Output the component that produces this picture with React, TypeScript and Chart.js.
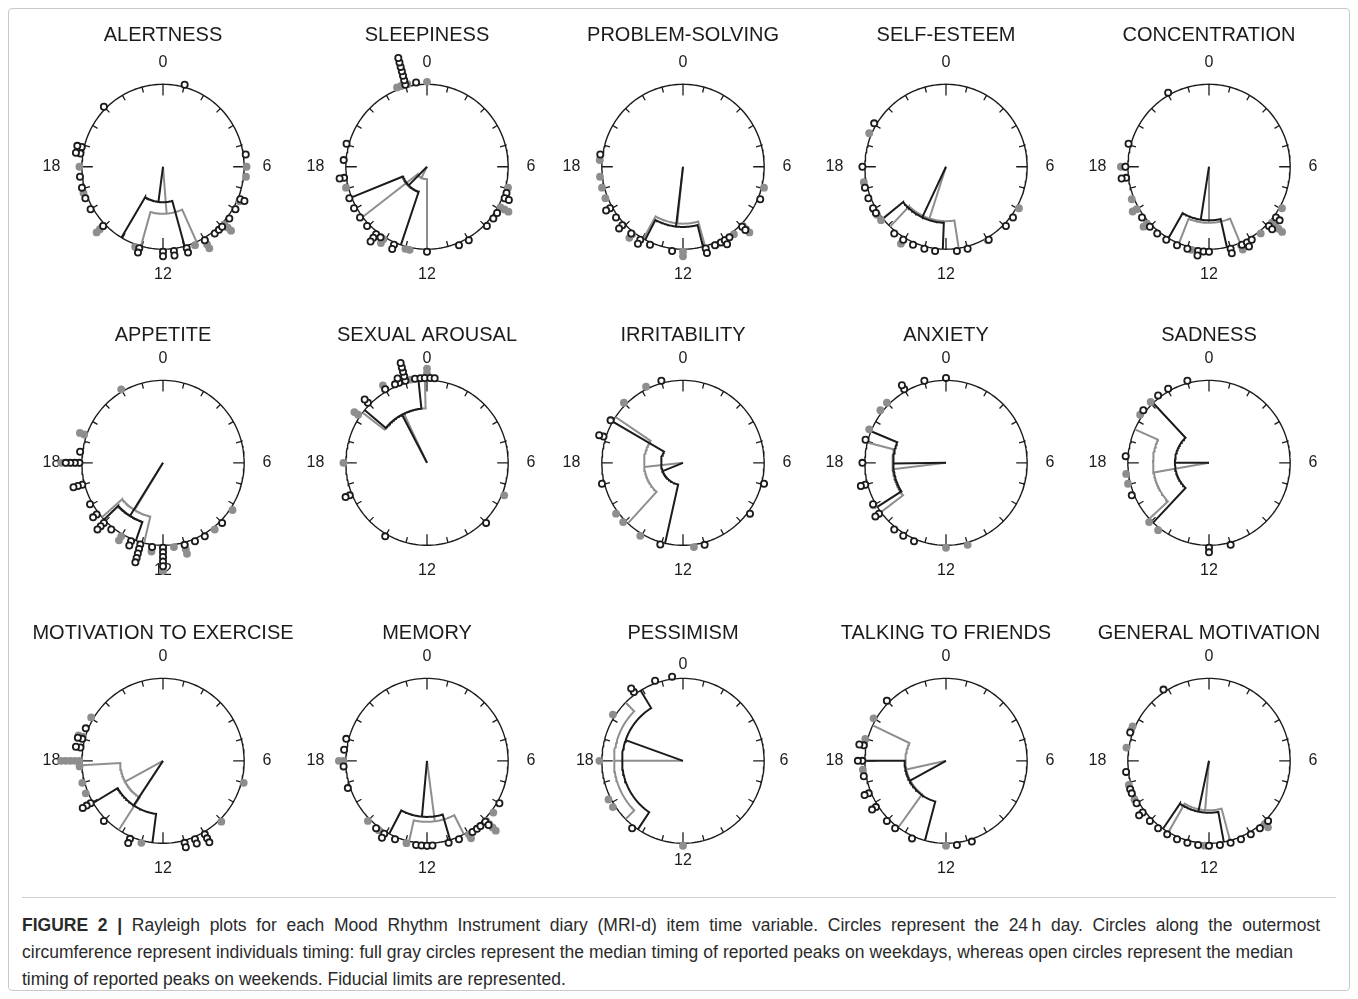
import React, { useEffect, useRef } from 'react';
import { Chart, registerables } from 'chart.js';

Chart.register(...registerables);

const FONT = 'Arial, "Liberation Sans", Helvetica, sans-serif';
const INK = '#1b1b1b';
const GRAY = '#8e8e8e';

// ---------- tick labels ----------
const hourLabelValues = [0, 6, 12, 18];
const hourLabelTexts = ['0', '6', '12', '18'];

// ---------- data (hours of the day) ----------
// weekday = full gray circles, weekend = open circles
// mean = [mean hour, mean resultant length, lower fiducial hour, upper fiducial hour]
const alertnessWeekday = [18.0, 6.0, 6.45, 7.6, 8.0, 8.85, 8.85, 8.85, 10.0, 10.0, 10.0, 10.5, 13.3, 15.05, 15.05, 15.05, 16.8];
const alertnessWeekend = [1.0, 21.0, 18.6, 18.6, 18.9, 18.9, 5.45, 17.55, 17.05, 16.55, 16.0, 15.05, 13.1, 13.1, 12.0, 12.0, 11.5, 11.5, 10.9, 10.9, 10.0, 9.45, 9.2, 9.0, 8.5, 8.0, 7.5, 7.5];
const alertnessMeanWeekday = [11.7, 0.57, 10.37, 13.05];
const alertnessMeanWeekend = [12.5, 0.43, 10.97, 14.05];

const sleepinessWeekday = [22.6, 22.8, 23.1, 0.0, 6.95, 7.9, 7.9, 7.9, 17.05, 14.1, 14.1, 12.8, 13.0];
const sleepinessWeekend = [23.0, 23.0, 23.0, 23.0, 23.0, 23.0, 23.0, 23.5, 19.05, 18.3, 17.5, 17.5, 16.55, 16.05, 15.55, 15.05, 14.5, 14.5, 14.5, 14.25, 13.55, 13.55, 12.0, 10.5, 10.0, 8.95, 8.5, 8.2, 7.2, 7.45, 7.45];
const sleepinessMeanWeekday = [13.8, 0.15, 12.0, 15.5];
const sleepinessMeanWeekend = [15.0, 0.32, 13.25, 16.55];

const problemWeekday = [18.3, 17.55, 17.05, 16.55, 14.5, 14.5, 12.0, 12.0, 10.45, 9.5, 8.95, 8.95, 8.95, 6.95];
const problemWeekend = [18.55, 16.05, 16.05, 15.55, 15.1, 15.1, 14.55, 14.05, 14.05, 13.55, 12.5, 10.95, 10.95, 10.5, 10.2, 10.0, 10.0, 9.75, 9.0, 9.0, 7.5];
const problemMeanWeekday = [12.4, 0.69, 10.95, 13.95];
const problemMeanWeekend = [12.45, 0.73, 11.05, 13.85];

const selfEsteemWeekday = [19.55, 17.3, 16.0, 15.7, 15.4, 14.05, 14.05, 10.0, 7.95];
const selfEsteemWeekend = [20.05, 18.0, 17.05, 16.55, 16.05, 15.8, 14.55, 14.05, 13.55, 13.0, 12.5, 11.5, 11.0, 9.95, 8.95, 8.45];
const selfEsteemMeanWeekday = [13.2, 0.66, 11.4, 14.9];
const selfEsteemMeanWeekend = [13.7, 0.68, 12.15, 15.4];

const concentrationWeekday = [18.0, 18.0, 16.5, 16.0, 16.0, 15.2, 15.2, 12.8, 10.5, 10.5, 9.45, 7.95, 8.75, 8.75, 8.75, 8.75];
const concentrationWeekend = [22.05, 19.05, 18.0, 17.5, 17.5, 15.55, 15.0, 14.55, 14.05, 13.5, 13.0, 12.5, 12.5, 12.25, 12.0, 11.0, 11.0, 10.45, 10.2, 10.2, 9.95, 8.95, 8.95, 8.45, 8.45];
const concentrationMeanWeekday = [12.0, 0.68, 10.5, 13.45];
const concentrationMeanWeekend = [12.6, 0.65, 11.15, 14.0];

const appetiteWeekday = [22.0, 19.3, 19.3, 18.0, 18.0, 18.0, 18.0, 18.0, 14.0, 14.0, 12.5, 12.5, 11.5, 11.0, 11.0, 11.0, 9.45, 8.25, 12.0, 12.0, 12.0, 12.0, 12.0, 12.0];
const appetiteWeekend = [18.5, 18.0, 18.0, 18.0, 18.0, 17.0, 17.0, 17.0, 16.05, 15.5, 15.5, 15.0, 15.0, 15.0, 14.55, 13.5, 13.5, 13.05, 13.05, 13.05, 13.05, 13.05, 12.5, 12.0, 12.0, 12.0, 12.0, 12.0, 11.0, 10.5, 10.0, 9.0];
const appetiteMeanWeekday = [14.1, 0.67, 12.9, 15.25];
const appetiteMeanWeekend = [14.15, 0.76, 13.3, 15.1];

const sexualWeekday = [0.0, 0.0, 0.0, 23.25, 22.0, 22.0, 20.3, 20.3, 18.0, 7.5];
const sexualWeekend = [23.45, 23.7, 23.9, 0.15, 0.35, 23.0, 23.0, 23.0, 23.0, 23.0, 22.7, 22.7, 22.5, 22.0, 21.0, 21.0, 16.5, 16.5, 14.0, 9.0];
const sexualMeanWeekday = [22.3, 0.66, 20.5, 23.9];
const sexualMeanWeekend = [22.15, 0.66, 20.65, 23.6];

const irritabilityWeekday = [22.25, 21.0, 20.0, 15.55, 15.05, 14.05, 11.5];
const irritabilityWeekend = [23.0, 20.0, 19.2, 19.2, 17.05, 13.05, 11.0, 8.45, 6.95];
const irritabilityMeanWeekday = [17.6, 0.48, 14.85, 20.25];
const irritabilityMeanWeekend = [16.55, 0.27, 12.85, 20.0];

const anxietyWeekday = [21.0, 20.55, 19.55, 17.0, 17.0, 16.0, 12.0, 11.0];
const anxietyWeekend = [0.0, 23.0, 22.0, 22.0, 19.05, 18.0, 17.0, 17.0, 16.05, 15.55, 15.55, 14.55, 14.05, 13.5];
const anxietyMeanWeekday = [17.55, 0.66, 15.55, 18.95];
const anxietyMeanWeekend = [17.95, 0.65, 15.85, 19.5];

const sadnessWeekday = [21.05, 20.3, 17.5, 17.05, 15.05, 14.5];
const sadnessWeekend = [23.0, 22.05, 21.5, 20.55, 18.3, 16.5, 12.0, 12.0, 11.0];
const sadnessMeanWeekday = [17.35, 0.69, 15.15, 19.6];
const sadnessMeanWeekend = [18.0, 0.42, 14.9, 21.1];

const exerciseWeekday = [20.05, 19.1, 19.1, 18.0, 18.0, 18.0, 18.0, 18.0, 17.75, 17.0, 16.5, 13.0, 9.05, 7.0];
const exerciseWeekend = [19.5, 19.0, 19.0, 18.6, 18.6, 16.0, 16.0, 16.0, 15.0, 13.55, 13.55, 11.0, 11.0, 10.5, 10.5, 10.0, 10.0, 10.0];
const exerciseMeanWeekday = [16.1, 0.53, 14.2, 17.8];
const exerciseMeanWeekend = [14.25, 0.65, 12.5, 15.95];

const memoryWeekday = [18.0, 18.0, 15.0, 14.35, 12.95, 12.0, 10.0, 10.0, 8.5, 9.0, 9.0, 9.0, 9.0];
const memoryWeekend = [19.0, 18.5, 17.75, 16.75, 14.5, 14.05, 14.05, 13.5, 12.5, 12.25, 12.0, 11.75, 11.0, 10.5, 9.8, 9.55, 9.35, 9.05, 9.05, 8.0];
const memoryMeanWeekday = [11.5, 0.74, 10.2, 12.85];
const memoryMeanWeekend = [12.35, 0.68, 10.9, 13.85];

const pessimismWeekday = [21.6, 20.2, 18.0, 16.2, 15.8, 12.0];
const pessimismWeekend = [23.5, 22.7, 21.6, 21.6, 14.5];
const pessimismMeanWeekday = [18.0, 0.85, 15.0, 21.0];
const pessimismMeanWeekend = [19.3, 0.75, 14.25, 21.9];

const talkingWeekday = [21.0, 20.0, 19.0, 18.0, 17.6, 12.0];
const talkingWeekend = [21.0, 18.7, 18.7, 18.0, 18.0, 17.3, 16.5, 16.5, 15.8, 15.8, 15.0, 14.5, 13.6, 11.5, 10.8];
const talkingMeanWeekday = [17.2, 0.5, 14.4, 19.7];
const talkingMeanWeekend = [16.1, 0.51, 13.0, 18.0];

const generalWeekday = [19.6, 19.4, 18.6, 16.9, 16.2, 12.2, 9.2, 9.2];
const generalWeekend = [21.8, 19.3, 17.5, 16.7, 16.5, 16.0, 15.5, 15.5, 15.0, 14.5, 14.0, 13.5, 13.0, 12.5, 12.0, 11.5, 11.0, 10.5, 10.0, 9.5, 9.0];
const generalMeanWeekday = [12.3, 0.6, 11.0, 14.0];
const generalMeanWeekend = [12.8, 0.63, 11.3, 14.3];

const titles = [
  'ALERTNESS', 'SLEEPINESS', 'PROBLEM-SOLVING', 'SELF-ESTEEM', 'CONCENTRATION',
  'APPETITE', 'SEXUAL AROUSAL', 'IRRITABILITY', 'ANXIETY', 'SADNESS',
  'MOTIVATION TO EXERCISE', 'MEMORY', 'PESSIMISM', 'TALKING TO FRIENDS', 'GENERAL MOTIVATION',
];

type Item = { title: string; weekday: number[]; weekend: number[]; meanWeekday: number[]; meanWeekend: number[] };

const ITEMS: Item[] = [
  [alertnessWeekday, alertnessWeekend, alertnessMeanWeekday, alertnessMeanWeekend],
  [sleepinessWeekday, sleepinessWeekend, sleepinessMeanWeekday, sleepinessMeanWeekend],
  [problemWeekday, problemWeekend, problemMeanWeekday, problemMeanWeekend],
  [selfEsteemWeekday, selfEsteemWeekend, selfEsteemMeanWeekday, selfEsteemMeanWeekend],
  [concentrationWeekday, concentrationWeekend, concentrationMeanWeekday, concentrationMeanWeekend],
  [appetiteWeekday, appetiteWeekend, appetiteMeanWeekday, appetiteMeanWeekend],
  [sexualWeekday, sexualWeekend, sexualMeanWeekday, sexualMeanWeekend],
  [irritabilityWeekday, irritabilityWeekend, irritabilityMeanWeekday, irritabilityMeanWeekend],
  [anxietyWeekday, anxietyWeekend, anxietyMeanWeekday, anxietyMeanWeekend],
  [sadnessWeekday, sadnessWeekend, sadnessMeanWeekday, sadnessMeanWeekend],
  [exerciseWeekday, exerciseWeekend, exerciseMeanWeekday, exerciseMeanWeekend],
  [memoryWeekday, memoryWeekend, memoryMeanWeekday, memoryMeanWeekend],
  [pessimismWeekday, pessimismWeekend, pessimismMeanWeekday, pessimismMeanWeekend],
  [talkingWeekday, talkingWeekend, talkingMeanWeekday, talkingMeanWeekend],
  [generalWeekday, generalWeekend, generalMeanWeekday, generalMeanWeekend],
].map((a, i) => ({ title: titles[i], weekday: a[0], weekend: a[1], meanWeekday: a[2], meanWeekend: a[3] }));

// ---------- layout ----------
const columnCenters = [163, 427, 683, 946, 1209];
const rowCenters = [169, 465, 763];
const rowTitleY = [35, 335, 633];

const PX = 84; // pixels for the unit circle radius
const CANVAS_W = 290;
const CANVAS_H = 292;
const TITLE_SIZE = 20;
const TITLE_PAD_TOP = 2;
const TITLE_BOX = TITLE_PAD_TOP + TITLE_SIZE * 1.2;
const BASE_R = 1.03;
const STEP_R = 0.056;
const FRAME = 9;
// hour-label distance from centre in unit radii: [top "0", right "6", bottom "12", left "18"]
const LABEL_OFFSETS_DEFAULT = [1.262, 1.226, 1.31, 1.265];
const LABEL_OFFSETS_TIGHT = [1.17, 1.19, 1.21, 1.1];

// ---------- geometry helpers ----------
const pol = (r: number, h: number) => {
  const a = (h / 24) * 2 * Math.PI;
  return { x: r * Math.sin(a), y: r * Math.cos(a) };
};

function stackPoints(hours: number[]) {
  const counts = new Map<string, number>();
  return hours.map((h) => {
    const key = (((h % 24) + 24) % 24).toFixed(2);
    const k = counts.get(key) || 0;
    counts.set(key, k + 1);
    return pol(BASE_R + k * STEP_R, h);
  });
}

function meanVector(m: number[]) {
  return [{ x: 0, y: 0 }, pol(m[1], m[0])];
}

function fiducial(m: number[]) {
  const rho = m[1];
  const lo = m[2];
  let hi = m[3];
  if (hi < lo) hi += 24;
  const pts = [pol(1, lo)];
  const n = 48;
  for (let i = 0; i <= n; i++) pts.push(pol(rho, lo + ((hi - lo) * i) / n));
  pts.push(pol(1, hi));
  return pts;
}

const circlePts = Array.from({ length: 181 }, (_, i) => pol(1, (i / 180) * 24));
const tickPts: any[] = [];
for (let h = 0; h < 24; h++) {
  const len = h % 6 === 0 ? 0.135 : 0.068;
  tickPts.push(pol(1, h), pol(1 - len, h), { x: 0, y: null });
}

const lineDs = (data: any[], color: string, width: number) => ({
  data,
  showLine: true,
  borderColor: color,
  borderWidth: width,
  pointRadius: 0,
  pointHoverRadius: 0,
  fill: false,
  tension: 0,
  spanGaps: false,
  clip: false as any,
});

const hourLabelPlugin = {
  id: 'hourLabels',
  beforeDatasetsDraw(chart: any, _args: any, opts: any) {
    const { ctx, scales } = chart;
    const xs = scales.x;
    const ys = scales.y;
    const off: number[] = opts.offsets || LABEL_OFFSETS_DEFAULT;
    ctx.save();
    ctx.fillStyle = INK;
    ctx.font = `16px ${FONT}`;
    ctx.textBaseline = 'middle';
    hourLabelValues.forEach((h, i) => {
      let align: CanvasTextAlign = 'center';
      let px = 0;
      let py = 0;
      if (h === 0) py = off[0];
      else if (h === 6) {
        px = off[1];
        align = 'left';
      } else if (h === 12) py = -off[2];
      else {
        px = -off[3];
        align = 'right';
      }
      ctx.textAlign = align;
      ctx.fillText(hourLabelTexts[i], xs.getPixelForValue(px), ys.getPixelForValue(py));
    });
    ctx.restore();
  },
};

function RayleighPlot({ item, cx, cy, titleY }: { item: Item; cx: number; cy: number; titleY: number }) {
  const ref = useRef<HTMLCanvasElement | null>(null);
  const canvasLeft = cx - CANVAS_W / 2;
  const canvasTop = titleY - TITLE_PAD_TOP - Math.round(TITLE_SIZE * 0.6);

  useEffect(() => {
    const canvas = ref.current;
    if (!canvas) return;
    const xHalf = CANVAS_W / 2 / PX;
    const areaTop = canvasTop + TITLE_BOX;
    const yMax = (cy - areaTop) / PX;
    const yMin = -(canvasTop + CANVAS_H - cy) / PX;

    const datasets: any[] = [
      {
        data: stackPoints(item.weekend),
        showLine: false,
        pointRadius: 3.1,
        pointHoverRadius: 3.1,
        pointBorderWidth: 1.8,
        pointBorderColor: INK,
        pointBackgroundColor: '#ffffff',
        clip: false,
      },
      {
        data: stackPoints(item.weekday),
        showLine: false,
        pointRadius: 3.9,
        pointHoverRadius: 3.9,
        pointBorderWidth: 0,
        pointBorderColor: GRAY,
        pointBackgroundColor: GRAY,
        clip: false,
      },
      lineDs(meanVector(item.meanWeekend), INK, 2),
      lineDs(fiducial(item.meanWeekend), INK, 2),
      lineDs(meanVector(item.meanWeekday), GRAY, 2),
      lineDs(fiducial(item.meanWeekday), GRAY, 2),
      lineDs(circlePts, INK, 1.4),
      lineDs(tickPts, INK, 1.3),
    ];

    const chart = new Chart(canvas, {
      type: 'scatter',
      data: { datasets },
      options: {
        animation: false,
        responsive: false,
        maintainAspectRatio: false,
        events: [],
        layout: { padding: 0 },
        plugins: {
          legend: { display: false },
          tooltip: { enabled: false },
          title: {
            display: true,
            text: item.title,
            color: INK,
            font: { family: FONT, size: TITLE_SIZE, weight: 'normal' as any },
            padding: { top: TITLE_PAD_TOP, bottom: 0 },
          },
          hourLabels: {
            offsets: item.title === 'PESSIMISM' ? LABEL_OFFSETS_TIGHT : LABEL_OFFSETS_DEFAULT,
          },
        } as any,
        scales: {
          x: { type: 'linear', min: -xHalf, max: xHalf, display: false },
          y: { type: 'linear', min: yMin, max: yMax, display: false },
        },
      },
      plugins: [hourLabelPlugin],
    });
    return () => chart.destroy();
  }, [item, cx, cy, titleY, canvasTop]);

  return (
    <canvas
      ref={ref}
      width={CANVAS_W}
      height={CANVAS_H}
      style={{
        position: 'absolute',
        left: canvasLeft - FRAME,
        top: canvasTop - FRAME,
        width: CANVAS_W,
        height: CANVAS_H,
      }}
    />
  );
}

const captionLines = [
  'Rayleigh plots for each Mood Rhythm Instrument diary (MRI-d) item time variable. Circles represent the 24\u2009h day. Circles along the outermost',
  'circumference represent individuals timing: full gray circles represent the median timing of reported peaks on weekdays, whereas open circles represent the median',
  'timing of reported peaks on weekends. Fiducial limits are represented.',
];
const captionWidths = [1298, 1271];

export default function App() {
  return (
    <div
      style={{
        position: 'relative',
        width: 1342,
        height: 983,
        boxSizing: 'border-box',
        border: '1px solid #c9c9c9',
        borderRadius: 4,
        overflow: 'hidden',
        background: '#ffffff',
        fontFamily: FONT,
      }}
    >
      {ITEMS.map((item, i) => (
        <RayleighPlot
          key={item.title}
          item={item}
          cx={columnCenters[i % 5]}
          cy={rowCenters[Math.floor(i / 5)]}
          titleY={rowTitleY[Math.floor(i / 5)]}
        />
      ))}
      <div
        style={{
          position: 'absolute',
          left: 22 - FRAME,
          top: 897 - FRAME,
          width: 1314,
          height: 1,
          background: '#cfcfcf',
        }}
      />
      <div
        style={{
          position: 'absolute',
          left: 22 - FRAME,
          top: 912 - FRAME,
          fontSize: 17.5,
          lineHeight: '27px',
          color: '#2a2a2a',
        }}
      >
        <div style={{ width: captionWidths[0], textAlign: 'justify', textAlignLast: 'justify' as any }}>
          <b>FIGURE 2 |</b> {captionLines[0]}
        </div>
        <div style={{ width: captionWidths[1], textAlign: 'justify', textAlignLast: 'justify' as any }}>
          {captionLines[1]}
        </div>
        <div style={{ whiteSpace: 'nowrap' }}>{captionLines[2]}</div>
      </div>
    </div>
  );
}
